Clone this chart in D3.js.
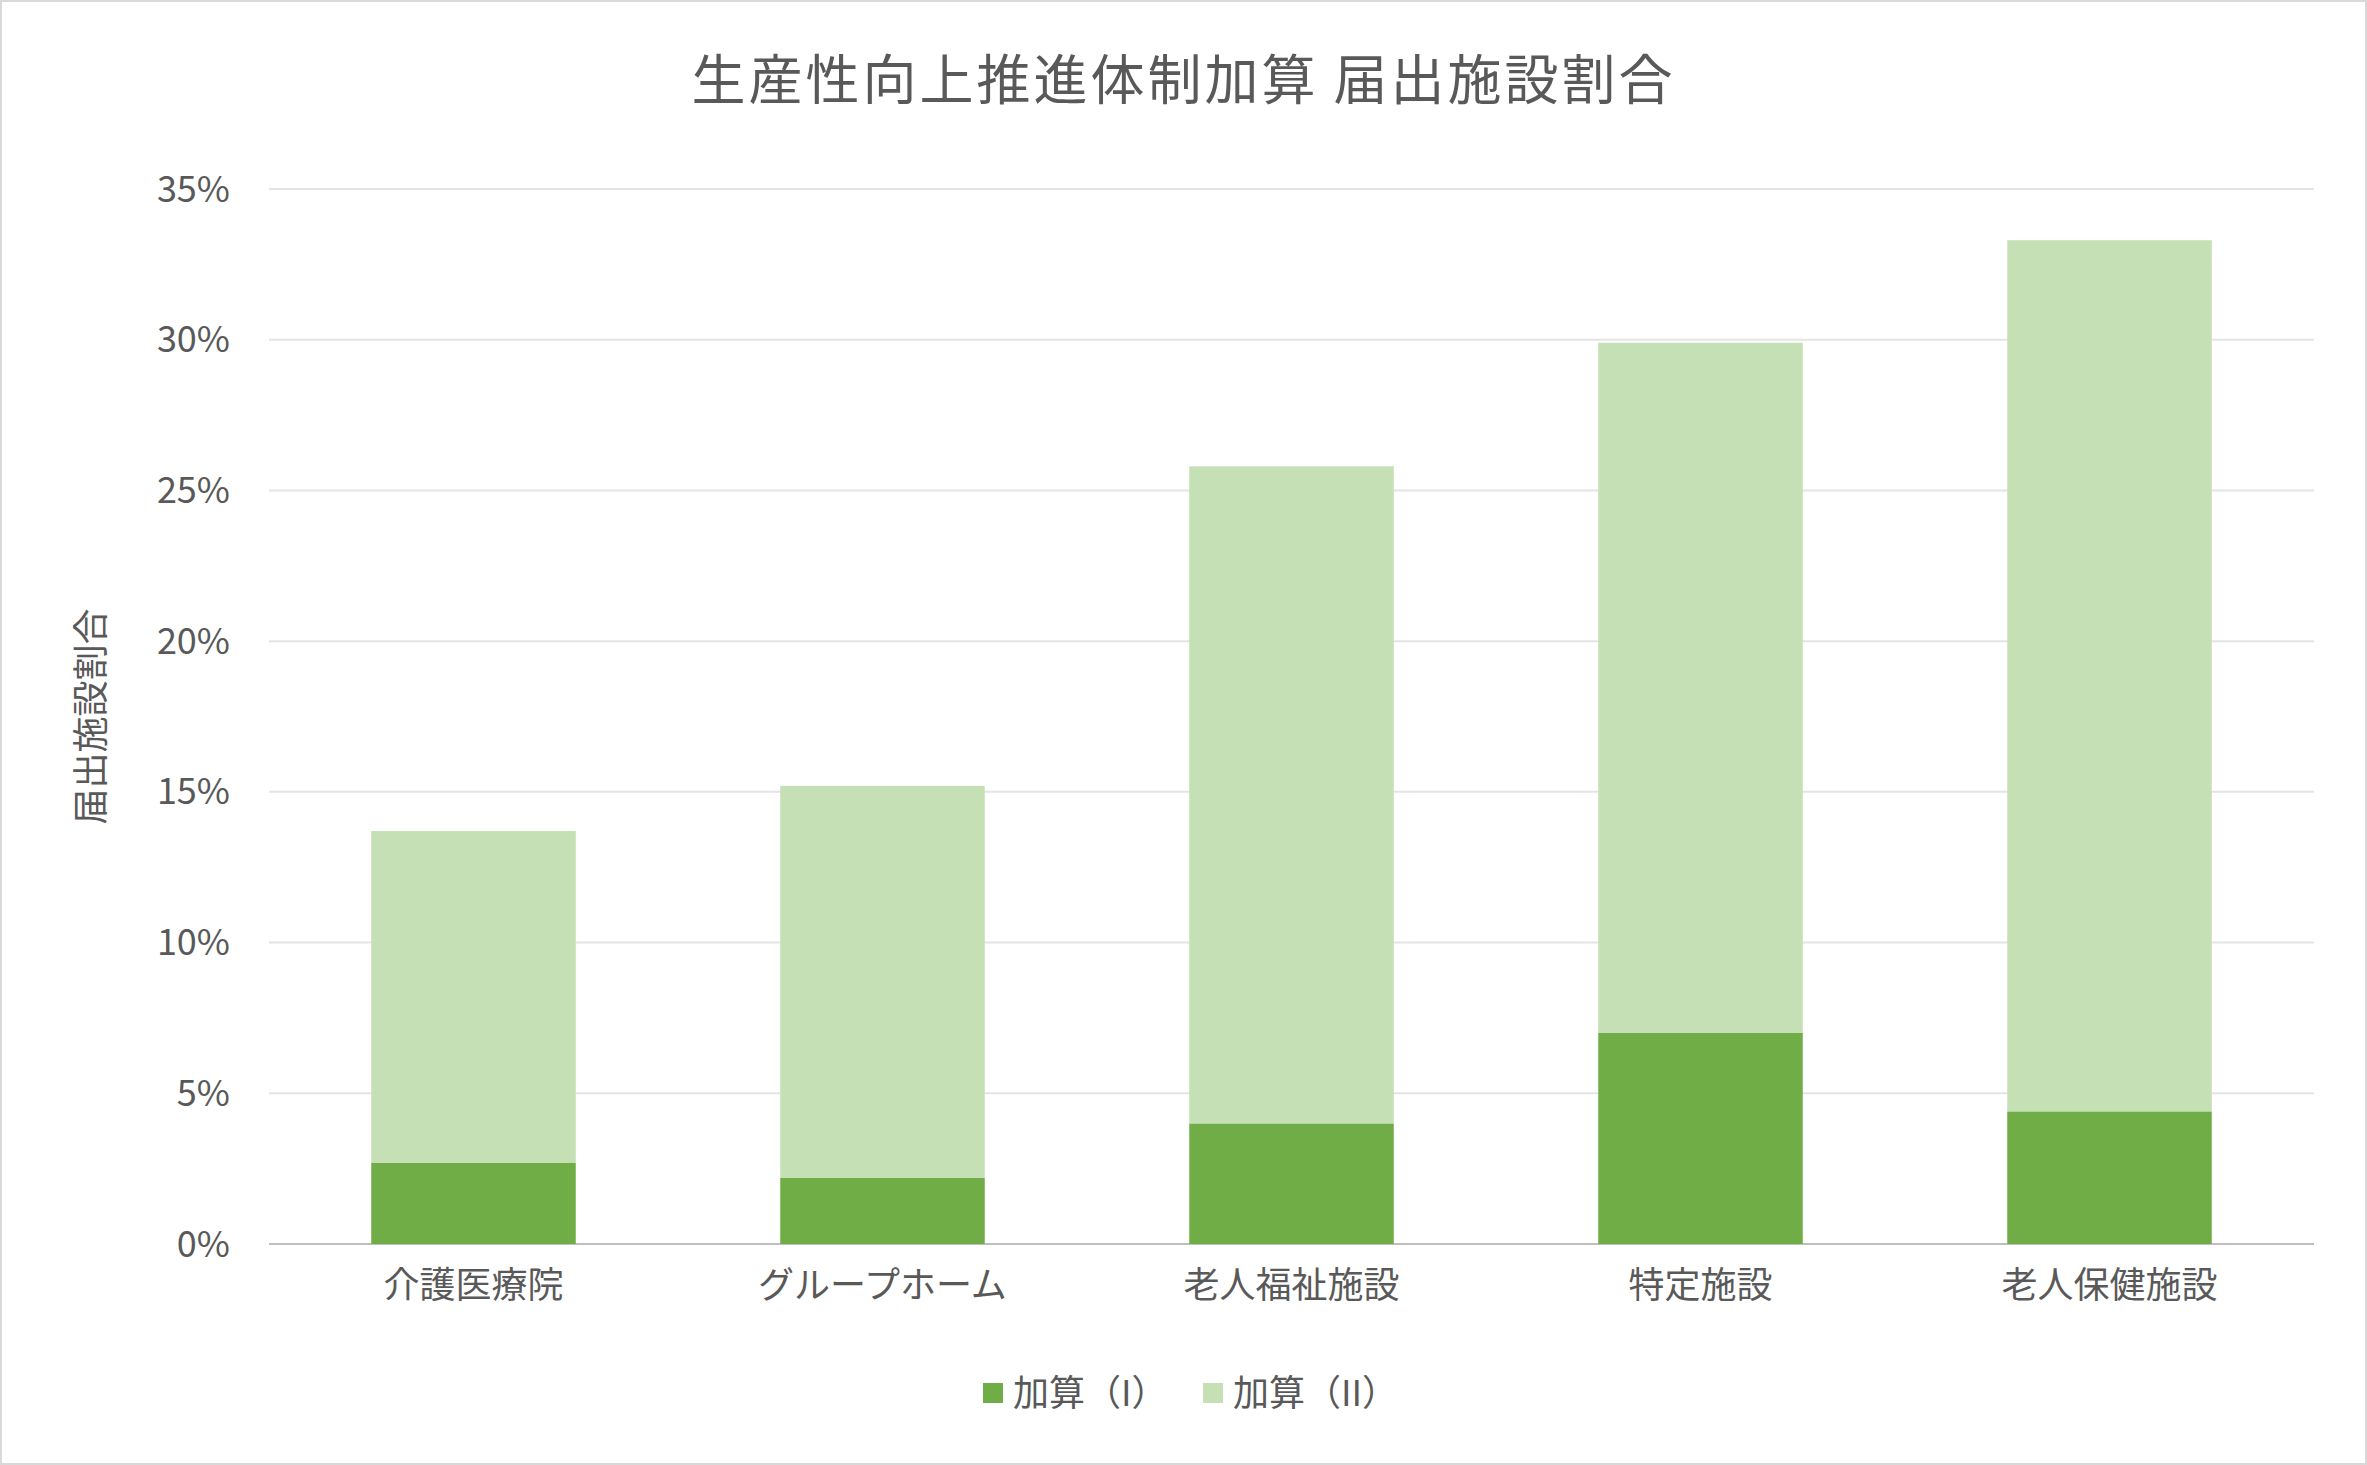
<!DOCTYPE html>
<html><head><meta charset="utf-8">
<script src="https://cdn.jsdelivr.net/npm/d3@7"></script>
<style>body{margin:0;background:#fff}svg{font-family:"Noto Sans CJK JP",sans-serif}</style>
</head><body><svg id="c" width="2367" height="1465"></svg>
<script>
const categories = ["介護医療院", "グループホーム", "老人福祉施設", "特定施設", "老人保健施設"];
const kasan1 = [2.7, 2.2, 4.0, 7.0, 4.4];
const kasan2 = [11.0, 13.0, 21.8, 22.9, 28.9];
const seriesNames = ["加算（I）", "加算（II）"];
const colors = ["#70AD47", "#C5E0B4"];
const yTicks = [0, 5, 10, 15, 20, 25, 30, 35];

const svg = d3.select("#c");
const W = 2367, H = 1465;
const mLeft = 269, mRight = 2314, mTop = 189, mBottom = 1244;
const txt = "#595959";

svg.append("rect").attr("x", 1).attr("y", 1).attr("width", W - 2).attr("height", H - 2)
  .attr("fill", "#fff").attr("stroke", "#d9d9d9").attr("stroke-width", 2);

const x = d3.scaleBand().domain(categories).range([mLeft, mRight]).paddingInner(0.5).paddingOuter(0.25);
const y = d3.scaleLinear().domain([0, 35]).range([mBottom, mTop]);

svg.append("g").selectAll("line").data(yTicks).join("line")
  .attr("x1", mLeft).attr("x2", mRight).attr("y1", d => y(d)).attr("y2", d => y(d))
  .attr("stroke", d => d === 0 ? "#bfbfbf" : "#e4e4e4").attr("stroke-width", 2);

svg.append("g").selectAll("text").data(yTicks).join("text")
  .attr("x", 230).attr("y", d => y(d)).attr("dy", "0.35em").attr("text-anchor", "end")
  .attr("font-size", 36).attr("fill", txt).text(d => d + "%");

const rows = categories.map((c, i) => ({ c, a: kasan1[i], b: kasan2[i] }));
const stacked = d3.stack().keys(["a", "b"])(rows);
svg.append("g").selectAll("g").data(stacked).join("g").attr("fill", (d, i) => colors[i])
  .selectAll("rect").data(d => d).join("rect")
  .attr("x", d => x(d.data.c)).attr("width", x.bandwidth())
  .attr("y", d => y(d[1])).attr("height", d => y(d[0]) - y(d[1]));

svg.append("g").selectAll("text").data(categories).join("text")
  .attr("x", d => x(d) + x.bandwidth() / 2).attr("y", 1298).attr("text-anchor", "middle")
  .attr("font-size", 36).attr("fill", txt).text(d => d);

svg.append("text").attr("x", W / 2).attr("y", 100).attr("text-anchor", "middle")
  .attr("font-size", 54).attr("fill", txt).attr("letter-spacing", 3).text("生産性向上推進体制加算 届出施設割合");

svg.append("text").attr("transform", `translate(104,${(mTop + mBottom) / 2}) rotate(-90)`)
  .attr("text-anchor", "middle").attr("font-size", 36).attr("fill", txt).text("届出施設割合");

const lg = svg.append("g");
const lx = [983, 1203];
seriesNames.forEach((n, i) => {
  lg.append("rect").attr("x", lx[i]).attr("y", 1383).attr("width", 20).attr("height", 20).attr("fill", colors[i]);
  lg.append("text").attr("x", lx[i] + 30).attr("y", 1393).attr("dy", "0.35em")
    .attr("font-size", 36).attr("fill", txt).text(n);
});
</script></body></html>
